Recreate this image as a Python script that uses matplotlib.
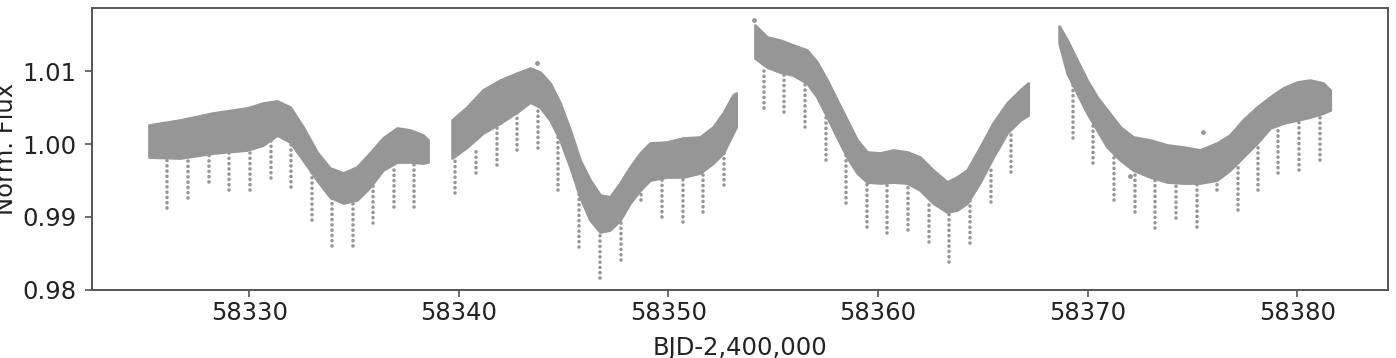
import numpy as np
import matplotlib
matplotlib.use("Agg")
from matplotlib import pyplot as plt

# light curve: upper / lower edge of the scatter band per sector orbit
seg1_t = [58325.22, 58326.70, 58328.27, 58329.90, 58330.66, 58331.33, 58331.95, 58332.57, 58333.23,
          58333.85, 58334.48, 58335.14, 58335.76, 58336.38, 58337.05, 58337.67, 58338.29, 58338.53]
seg1_hi = [1.00261, 1.00330, 1.00426, 1.00495, 1.00563, 1.00591, 1.00508, 1.00234, 0.99890,
           0.99670, 0.99602, 0.99684, 0.99876, 1.00082, 1.00220, 1.00192, 1.00124, 1.00055]
seg1_lo = [0.99821, 0.99808, 0.99876, 0.99918, 0.99986, 1.00124, 1.00027, 0.99780, 0.99505,
           0.99272, 0.99190, 0.99231, 0.99409, 0.99643, 0.99753, 0.99753, 0.99739, 0.99753]

seg2_t = [58339.68, 58340.39, 58341.15, 58341.97, 58342.78, 58343.40, 58343.87, 58344.35, 58344.83,
          58345.31, 58345.78, 58346.26, 58346.74, 58347.21, 58347.69, 58348.17, 58348.65, 58349.12,
          58349.93, 58350.70, 58351.51, 58352.13, 58352.61, 58353.08, 58353.23]
seg2_hi = [1.00330, 1.00508, 1.00742, 1.00879, 1.00975, 1.01044, 1.00989, 1.00838, 1.00563,
           1.00192, 0.99780, 0.99505, 0.99299, 0.99272, 0.99464, 0.99684, 0.99876, 1.00014,
           1.00027, 1.00082, 1.00096, 1.00234, 1.00426, 1.00673, 1.00701]
seg2_lo = [0.99808, 0.99959, 1.00151, 1.00288, 1.00440, 1.00577, 1.00508, 1.00330, 1.00055,
           0.99684, 0.99272, 0.98956, 0.98791, 0.98819, 0.98956, 0.99190, 0.99368, 0.99505,
           0.99547, 0.99547, 0.99602, 0.99739, 0.99876, 1.00151, 1.00234]

seg3_t = [58354.13, 58354.70, 58355.32, 58355.95, 58356.61, 58357.09, 58357.57, 58358.04, 58358.52,
          58359.00, 58359.48, 58360.10, 58360.72, 58361.38, 58362.00, 58362.62, 58363.29, 58363.77,
          58364.25, 58364.87, 58365.49, 58366.15, 58366.78, 58367.16]
seg3_hi = [1.01635, 1.01470, 1.01429, 1.01360, 1.01291, 1.01126, 1.00879, 1.00604, 1.00330,
           1.00055, 0.99890, 0.99876, 0.99918, 0.99890, 0.99821, 0.99643, 0.99478, 0.99547,
           0.99643, 0.99959, 1.00288, 1.00563, 1.00742, 1.00838]
seg3_lo = [1.01181, 1.01058, 1.00989, 1.00948, 1.00838, 1.00646, 1.00371, 1.00096, 0.99821,
           0.99602, 0.99478, 0.99464, 0.99478, 0.99464, 0.99368, 0.99190, 0.99066, 0.99093,
           0.99190, 0.99478, 0.99821, 1.00151, 1.00330, 1.00398]

seg4_t = [58368.64, 58369.02, 58369.49, 58369.97, 58370.45, 58370.93, 58371.55, 58372.17, 58372.98,
          58373.79, 58374.55, 58375.36, 58376.17, 58376.79, 58377.41, 58378.08, 58378.70, 58379.32,
          58379.99, 58380.61, 58381.23, 58381.57]
seg4_hi = [1.01621, 1.01429, 1.01154, 1.00879, 1.00646, 1.00467, 1.00234, 1.00096, 1.00055,
           0.99986, 0.99959, 0.99918, 1.00014, 1.00124, 1.00330, 1.00508, 1.00646, 1.00769,
           1.00852, 1.00879, 1.00838, 1.00742]
seg4_lo = [1.01387, 1.00975, 1.00701, 1.00426, 1.00192, 0.99959, 0.99780, 0.99643, 0.99547,
           0.99478, 0.99464, 0.99464, 0.99505, 0.99643, 0.99821, 1.00014, 1.00220, 1.00288,
           1.00330, 1.00371, 1.00426, 1.00467]

# transit streaks: time, deepest point, where the streak leaves the band
transit_t = [58326.09, 58327.09, 58328.08, 58329.05, 58330.04, 58331.03, 58331.99, 58332.98,
             58333.97, 58334.94, 58335.92, 58336.91, 58337.88,
             58339.82, 58340.82, 58341.81, 58342.79, 58343.76, 58344.75, 58345.75, 58346.74,
             58347.72, 58348.71, 58349.69, 58350.68, 58351.66, 58352.65,
             58354.56, 58355.53, 58356.52, 58357.52, 58358.47, 58359.46, 58360.44, 58361.45,
             58362.43, 58363.40, 58364.39, 58365.38, 58366.35,
             58369.29, 58370.27, 58371.26, 58372.26, 58373.23, 58374.22, 58375.21, 58376.19,
             58377.19, 58378.14, 58379.10, 58380.10, 58381.09]
transit_min = [0.99117, 0.99258, 0.99478, 0.99368, 0.99368, 0.99529, 0.99409, 0.98956,
               0.98599, 0.98599, 0.98915, 0.99135, 0.99135,
               0.99323, 0.99598, 0.99712, 0.99918, 0.99941, 0.99368, 0.98589, 0.98155,
               0.98407, 0.99231, 0.99001, 0.98933, 0.99070, 0.99437,
               1.00490, 1.00444, 1.00238, 0.99780, 0.99185, 0.98864, 0.98773, 0.98819,
               0.98658, 0.98383, 0.98636, 0.99207, 0.99620,
               1.00078, 0.99735, 0.99231, 0.99070, 0.98842, 0.98979, 0.98864, 0.99368,
               0.99093, 0.99368, 0.99598, 0.99643, 0.99780]
transit_top = [0.99808, 0.99821, 0.99863, 0.99904, 0.99918, 1.00041, 1.00027, 0.99670,
               0.99286, 0.99217, 0.99423, 0.99698, 0.99753,
               0.99821, 0.99918, 1.00220, 1.00440, 1.00522, 1.00096, 0.99341, 0.98819,
               0.98956, 0.99382, 0.99533, 0.99547, 0.99615, 0.99918,
               1.01071, 1.00975, 1.00852, 1.00398, 0.99849, 0.99492, 0.99478, 0.99464,
               0.99231, 0.99080, 0.99231, 0.99643, 1.00179,
               1.00810, 1.00261, 0.99890, 0.99629, 0.99560, 0.99478, 0.99464, 0.99505,
               0.99780, 1.00014, 1.00261, 1.00330, 1.00412]

# a few loose points outside the band
stray_t = [58343.71, 58354.10, 58375.49, 58345.62, 58372.00]
stray_f = [1.01109, 1.01700, 1.00169, 0.99570, 0.99560]

point_color = "#969696"

fig, ax = plt.subplots(figsize=(13.96, 3.58), dpi=100)
fig.subplots_adjust(left=0.0659, right=0.9943, top=0.9777, bottom=0.1913)

streaks = ax.vlines(transit_t, transit_min, transit_top, colors=point_color, linewidth=2.6,
                    linestyles=[(0, (0.01, 1.45))], zorder=2)
streaks.set_capstyle("round")
for seg_t, seg_lo, seg_hi in [(seg1_t, seg1_lo, seg1_hi), (seg2_t, seg2_lo, seg2_hi),
                              (seg3_t, seg3_lo, seg3_hi), (seg4_t, seg4_lo, seg4_hi)]:
    ax.fill_between(seg_t, seg_lo, seg_hi, color=point_color, linewidth=2.0,
                    edgecolor=point_color, zorder=3)
ax.scatter(stray_t, stray_f, s=6, color=point_color, zorder=3)

ax.set_xlim(58322.5, 58384.33)
ax.set_ylim(0.98, 1.0187)
ax.set_xticks([58330, 58340, 58350, 58360, 58370, 58380])
ax.set_yticks([0.98, 0.99, 1.00, 1.01])
ax.set_yticklabels(["0.98", "0.99", "1.00", "1.01"])

ax.tick_params(labelsize=17.5, colors="#555555", labelcolor="#222222", length=5, width=1.2)
ax.tick_params(axis="y", pad=6)
for side in ax.spines.values():
    side.set_color("#555555")
    side.set_linewidth(1.4)

ax.set_xlabel("BJD-2,400,000", fontsize=17.5, color="#222222", labelpad=7.5)
ax.set_ylabel("Norm. Flux", fontsize=17.5, color="#222222")
ax.yaxis.set_label_coords(-0.0571, 0.5)

fig.savefig("out.png", dpi=100)
